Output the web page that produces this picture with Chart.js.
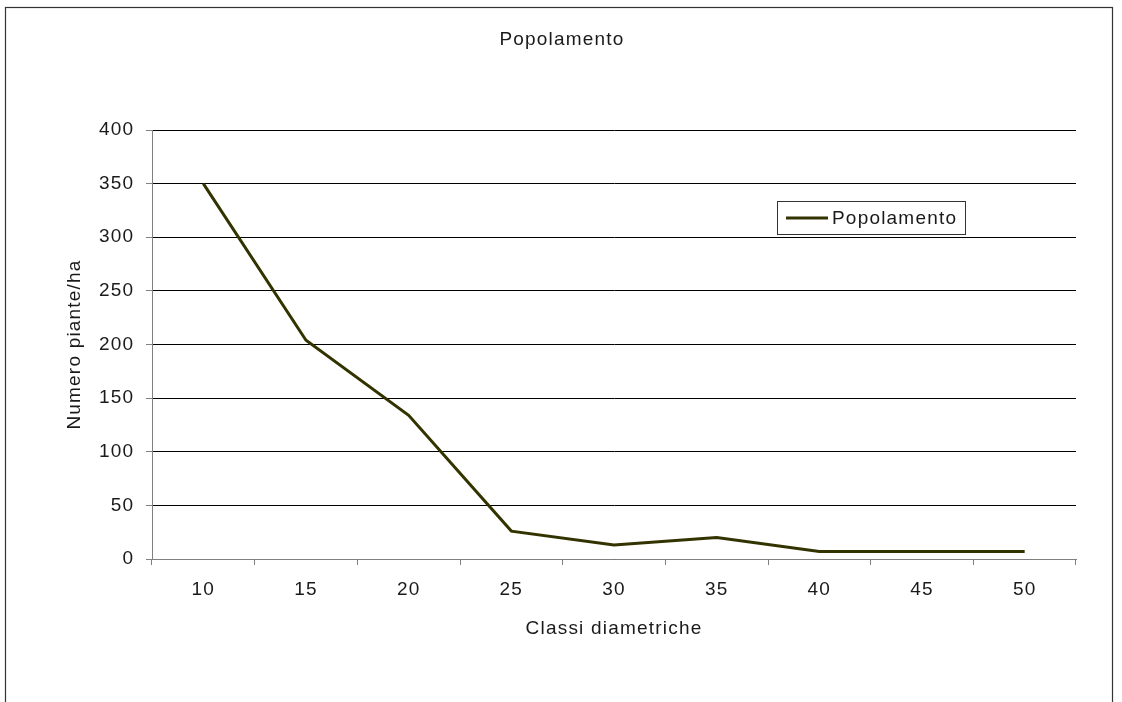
<!DOCTYPE html>
<html>
<head>
<meta charset="utf-8">
<script src="https://cdn.jsdelivr.net/npm/chart.js@4"></script>
<style>
html,body{margin:0;padding:0;background:#fff;}
#wrap{position:relative;width:1122px;height:702px;}
canvas{display:block;}
</style>
</head>
<body>
<div id="wrap"><canvas id="c" width="1122" height="702"></canvas></div>
<script>
const chartTitle = "Popolamento";
const categories = ["10","15","20","25","30","35","40","45","50"];
const seriesName = "Popolamento";
const seriesValues = [350, 204, 134, 26, 13, 20, 7, 7, 7];
const yTicks = [0, 50, 100, 150, 200, 250, 300, 350, 400];
const xTitle = "Classi diametriche";
const yTitle = "Numero piante/ha";

const FONT = "'Liberation Sans', Arial, sans-serif";
const FSIZE = 19;
const SPACING = '1.2px';
const TEXT = '#1a1a1a';
const AXIS = '#808080';

const decor = {
  id: 'decor',
  beforeLayout(chart){ chart.ctx.letterSpacing = SPACING; },
  beforeDraw(chart){
    const ctx = chart.ctx;
    ctx.letterSpacing = SPACING;
    ctx.save();
    ctx.fillStyle = '#fff';
    ctx.fillRect(0,0,chart.width,chart.height);
    ctx.restore();
  },
  afterDraw(chart){
    const ctx = chart.ctx;
    ctx.save();
    ctx.letterSpacing = SPACING;
    // outer frame
    ctx.strokeStyle = '#333';
    ctx.lineWidth = 1.2;
    ctx.strokeRect(5.5, 7.5, 1107, 800);
    // title
    ctx.fillStyle = TEXT;
    ctx.font = FSIZE + 'px ' + FONT;
    ctx.textAlign = 'center';
    ctx.textBaseline = 'alphabetic';
    ctx.fillText(chartTitle, 562, 45);
    // legend box
    const ds = chart.data.datasets[0];
    ctx.strokeStyle = '#333';
    ctx.lineWidth = 1;
    ctx.strokeRect(777.5, 201.5, 188, 33);
    ctx.strokeStyle = ds.borderColor;
    ctx.lineWidth = 3;
    ctx.beginPath();
    ctx.moveTo(786, 218);
    ctx.lineTo(828, 218);
    ctx.stroke();
    ctx.textAlign = 'left';
    ctx.textBaseline = 'middle';
    ctx.fillStyle = TEXT;
    ctx.fillText(ds.label, 832, 218.5);
    ctx.restore();
  }
};

new Chart(document.getElementById('c'), {
  type: 'line',
  data: {
    labels: categories,
    datasets: [{
      label: seriesName,
      data: seriesValues,
      borderColor: '#333300',
      backgroundColor: '#333300',
      borderWidth: 3,
      pointRadius: 0,
      tension: 0,
      fill: false
    }]
  },
  options: {
    responsive: false,
    animation: false,
    devicePixelRatio: 1,
    layout: { padding: { left: 63.6, right: 46, top: 130, bottom: 62.1 } },
    plugins: {
      legend: { display: false },
      title: { display: false },
      tooltip: { enabled: false }
    },
    scales: {
      x: {
        type: 'category',
        offset: true,
        afterFit(scale){ scale.height = 80.9; },
        grid: {
          offset: true,
          drawOnChartArea: false,
          drawTicks: true,
          tickLength: 6,
          tickColor: AXIS,
          color: AXIS
        },
        border: { display: true, color: AXIS, width: 1 },
        ticks: {
          color: TEXT,
          font: { family: FONT, size: FSIZE },
          padding: 13.6,
          maxRotation: 0,
          autoSkip: false
        },
        title: {
          display: true,
          text: xTitle,
          color: TEXT,
          font: { family: FONT, size: FSIZE },
          padding: 0
        }
      },
      y: {
        min: 0,
        max: 400,
        afterFit(scale){ scale.width = 152 - 63.6; },
        afterBuildTicks(scale){ scale.ticks = yTicks.map(v => ({ value: v })); },
        grid: {
          color: '#000',
          lineWidth: 1,
          drawTicks: true,
          tickLength: 6,
          tickColor: AXIS
        },
        border: { display: true, color: AXIS, width: 1 },
        ticks: {
          color: TEXT,
          font: { family: FONT, size: FSIZE },
          padding: 11.8
        },
        title: {
          display: true,
          text: yTitle,
          color: TEXT,
          font: { family: FONT, size: FSIZE },
          padding: 0
        }
      }
    }
  },
  plugins: [decor]
});
</script>
</body>
</html>
